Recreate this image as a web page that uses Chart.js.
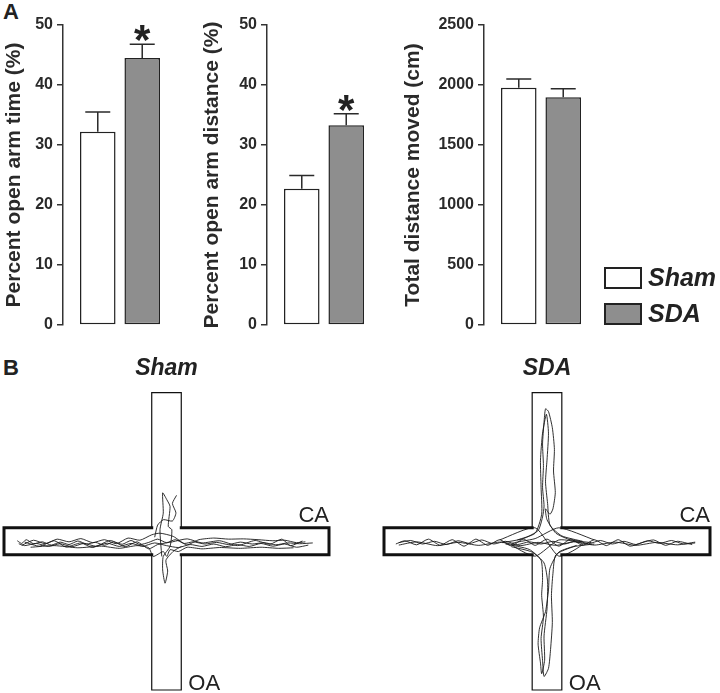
<!DOCTYPE html>
<html>
<head>
<meta charset="utf-8">
<script src="https://cdn.jsdelivr.net/npm/chart.js@4.4.1/dist/chart.umd.min.js"></script>
<style>
  body { margin: 0; background: #fff; }
  #fig { position: relative; width: 720px; height: 693px; overflow: hidden;
         font-family: "Liberation Sans", Arial, sans-serif; color: #222; }
  #fig canvas { position: absolute; }
  .panel { position: absolute; font-weight: bold; font-size: 22px; line-height: 24px; }
</style>
</head>
<body>
<div id="fig">
  <div class="panel" style="left:3px;top:0px">A</div>
  <div class="panel" style="left:3px;top:356px">B</div>
  <canvas id="timeChart" width="177" height="345" style="left:0;top:0"></canvas>
  <canvas id="distChart" width="191" height="345" style="left:190px;top:0"></canvas>
  <canvas id="totalChart" width="330" height="345" style="left:390px;top:0"></canvas>
  <canvas id="shamMaze" width="360" height="338" style="left:0;top:355px"></canvas>
  <canvas id="sdaMaze" width="350" height="338" style="left:370px;top:355px"></canvas>
</div>
<script>
// ---- panel A data ----
const groups = ['Sham', 'SDA'];
const barFills = ['#ffffff', '#8e8e8e'];

const openArmTime = [32.2, 44.5];        // %
const openArmTimeSem = [3.3, 2.3];
const openArmTimeStars = ['', '*'];

const openArmDist = [22.7, 33.3];        // %
const openArmDistSem = [2.2, 1.9];
const openArmDistStars = ['', '*'];

const totalDist = [1977, 1897];          // cm
const totalDistSem = [73, 72];
const totalDistStars = ['', ''];

// ---- panel B data (maze in cm, traces estimated from the tracks) ----
const armLength = 50;
const armHalfWidth = 5;
const armLabels = ['CA', 'OA'];

const shamTraces = [
  [[-50.5,0.2],[-49,-0.8],[-47.5,0.6],[-45,-0.9],[-42,-0.2],[-39,-1.4],[-36,-0.3],[-33,-1.2],[-30,0.1],[-27,-1.0],[-24,-0.4],[-21,-1.5],[-18,-0.2],[-15,-1.1],[-12,0.3],[-9,-1.2],[-6,-0.4],[-3,0.8],[0,-0.5],[3,0.6],[6,-0.8],[9,-0.2],[13,-1.0],[17,-0.4],[21,-1.2],[25,-0.3],[29,-1.0],[33,-0.5],[37,-1.3],[41,-0.6],[45,-0.9],[49.5,-0.6]],
  [[48,-1.4],[44,-2.2],[40,-1.0],[36,-1.8],[32,-0.8],[28,-1.9],[24,-1.2],[20,-2.0],[16,-1.0],[12,-1.9],[8,-1.2],[4,-2.3],[0,-1.6],[-4,-0.6],[-8,-1.8],[-12,-0.8],[-16,-1.9],[-20,-0.7],[-24,-1.8],[-28,-0.8],[-32,-2.0],[-36,-0.9],[-40,-1.9],[-44,-0.8],[-48,-1.6],[-50,-0.9]],
  [[-49,-1.5],[-45,0.4],[-41,-0.9],[-37,0.8],[-33,-0.2],[-29,1.0],[-25,-0.5],[-21,0.6],[-17,-0.9],[-13,1.2],[-9,0.4],[-5,2.4],[-2.2,3.0],[2.3,1.8],[6.8,-1.3],[11,0.6],[16,1.2],[21,0.8],[26,0.9],[31,0.6],[36,0.2],[40,0.4],[44,-0.5],[47,-0.2]],
  [[43,-2.4],[38,-2.6],[32,-2.2],[25,-2.6],[18,-2.3],[12,-2.8],[7,-2.2],[4,-3.8],[1.2,-3.1],[0.1,-5.6],[-1.1,-3.8],[-4.5,-5.6],[-6,-2.4],[-10,-1.6],[-16,-2.6],[-22,-1.8],[-30,-2.4],[-38,-1.6],[-46,-2.2]],
  [[-48,-0.3],[-43,-1.8],[-38,0.2],[-34,-2.1],[-29,-0.6],[-25,-2.3],[-19,0.3],[-14,-2.0],[-10,-0.2],[-6,-2.8],[-3,-1.2],[2,-0.2],[7,0.9],[12,-0.6],[18,0.2],[24,-1.6],[30,0.3],[35,-1.1],[39,0.8],[42,-1.6],[46,0.1]],
  [[-1.6,-5.6],[-2.2,4.3],[-1.1,10.4],[-1.3,17.9],[0.1,15.4],[1.2,12.9],[0.6,5.5],[1.8,4.3],[1.2,-1.9],[-1.1,-5.6],[-1.3,-10.6],[-0.5,-15.5],[0.4,-11],[-0.2,-7],[2.5,-3.5],[5.1,-1.9]],
  [[-4,1.5],[-3,6],[-1,8],[2,7.5],[3.2,10.5],[2,14],[3.4,17]]
];

const sdaTraces = [
  [[-50,-0.5],[-46,0.3],[-42,-1],[-38,0],[-34,-1.2],[-30,0.2],[-26,-0.8],[-22,0.5],[-18,-1],[-14,0],[-10,-1.2],[-6,-0.2],[-2,-1],[2,0],[6,-1],[10,0.2],[14,-0.9],[18,0.3],[22,-1],[26,0],[30,-1.2],[34,0.2],[38,-0.8],[42,0.3],[46,-1],[50,-0.6]],
  [[49,-1.2],[44,0],[40,-1.5],[36,0.5],[32,-0.5],[28,-1.8],[24,0.6],[20,-1.6],[16,0.6],[12,-1.5],[8,0.8],[4,-1.8],[0,0.8],[-4,-1.5],[-8,0.8],[-12,-1.7],[-16,0.6],[-20,-1.5],[-24,0.8],[-28,-1.8],[-32,0.6],[-36,-1.5],[-40,0.8],[-44,-1.3],[-48,0.2],[-51,-1]],
  [[-50,-1.4],[-44,-0.2],[-37,-1.6],[-30,-0.4],[-23,-1.5],[-16,-0.3],[-9,-1.6],[-3,-0.4],[3,-1.5],[9,-0.2],[16,-1.4],[23,-0.3],[30,-1.5],[37,-0.4],[44,-1.3],[50,-0.3]],
  [[-15,-0.5],[-8,1],[-3,4],[-1.5,9],[-1,13],[-1.5,20],[-1.2,28],[-1.5,36],[-1,44],[-0.5,49],[0.5,48],[1.8,42],[2.5,34],[2.2,26],[2.8,18],[2,12],[1,10],[-0.5,12],[0,8],[3,3],[8,0.5],[15,-0.5]],
  [[12,0],[5,2],[1,6],[0.2,14],[-0.5,22],[0,30],[0.5,40],[-0.2,47],[-1.5,40],[-2.2,30],[-2,20],[-1.8,10],[-4,3],[-10,0.5]],
  [[-14,-1],[-6,-3],[-2,-7],[-1.5,-14],[-1.8,-20],[-1.2,-28],[-2,-36],[-1.5,-44],[-1,-50],[0.5,-47],[1.2,-40],[1.8,-30],[1.5,-20],[2,-12],[3,-5],[9,-2],[16,-1]],
  [[10,-1.5],[4,-4],[1,-10],[0.5,-18],[-0.5,-26],[-2.5,-32],[-3,-38],[-2.2,-45],[-1.8,-49],[-0.8,-44],[-1,-35],[0,-25],[0.2,-15],[-1,-8],[-5,-4],[-12,-2]],
  [[-16,0.5],[-4,5],[4,-5.5],[12,-1],[4,0.5],[-4,-5.5],[-12,-1],[-4,1],[4,5],[16,0.5]]
];

// ---- helpers ----
const FONT = '"Liberation Sans", Arial, sans-serif';

const errorBars = {
  id: 'errorBars',
  afterDatasetsDraw(chart) {
    const { ctx, scales: { y } } = chart;
    chart.data.datasets.forEach((ds, i) => {
      const bar = chart.getDatasetMeta(i).data[0];
      const top = y.getPixelForValue(ds.data[0] + ds.sem);
      ctx.save();
      ctx.strokeStyle = '#2a2a2a';
      ctx.lineWidth = 1.5;
      ctx.beginPath();
      ctx.moveTo(bar.x, bar.y);
      ctx.lineTo(bar.x, top);
      ctx.moveTo(bar.x - 12.5, top);
      ctx.lineTo(bar.x + 12.5, top);
      ctx.stroke();
      if (ds.star) {
        ctx.fillStyle = '#222';
        ctx.font = 'bold 42px ' + FONT;
        ctx.textAlign = 'center';
        ctx.textBaseline = 'alphabetic';
        ctx.fillText(ds.star, bar.x, top + 10);
      }
      ctx.restore();
    });
  }
};

// legend boxes stacked at the bottom right of the plot
const sideLegend = {
  id: 'sideLegend',
  afterDraw(chart) {
    const { ctx, chartArea } = chart;
    const sets = chart.data.datasets;
    const x = chartArea.right + 6;
    sets.forEach((ds, i) => {
      const top = chartArea.bottom - 22 - (sets.length - 1 - i) * 36;
      ctx.save();
      ctx.fillStyle = ds.backgroundColor;
      ctx.strokeStyle = '#222';
      ctx.lineWidth = 2;
      ctx.fillRect(x, top, 38, 22);
      ctx.strokeRect(x + 1, top + 1, 36, 20);
      ctx.fillStyle = '#222';
      ctx.font = 'italic bold 25px ' + FONT;
      ctx.textBaseline = 'middle';
      ctx.fillText(ds.label, x + 44, top + 12);
      ctx.restore();
    });
  }
};

function barChart(id, values, sems, stars, title, max, step, axisWidth, titlePad, extraRight, plugins) {
  return new Chart(document.getElementById(id), {
    type: 'bar',
    data: {
      labels: [''],
      datasets: groups.map((g, i) => ({
        label: g,
        data: [values[i]],
        sem: sems[i],
        star: stars[i],
        backgroundColor: barFills[i],
        borderColor: '#222',
        borderWidth: 1.5,
        borderSkipped: false,
        categoryPercentage: 0.78,
        barPercentage: 0.8
      }))
    },
    options: {
      responsive: false,
      animation: false,
      layout: { padding: { top: 25, bottom: 20, left: 0, right: extraRight } },
      plugins: { legend: { display: false }, tooltip: { enabled: false } },
      scales: {
        x: { display: false },
        y: {
          min: 0,
          max: max,
          ticks: {
            stepSize: step, color: '#2a2a2a', padding: 4,
            font: { family: FONT, size: 16, weight: 'bold' },
            callback: v => String(v)
          },
          grid: { drawOnChartArea: false, tickLength: 6, color: '#333', lineWidth: 1.5 },
          border: { color: '#333', width: 1.5 },
          title: {
            display: true, text: title, color: '#2a2a2a',
            font: { family: FONT, size: 21, weight: 'bold' },
            padding: { top: titlePad, bottom: 0 }
          },
          afterFit(scale) { scale.width = axisWidth; }
        }
      }
    },
    plugins: [errorBars].concat(plugins || [])
  });
}

barChart('timeChart', openArmTime, openArmTimeSem, openArmTimeStars,
  'Percent open arm time (%)', 50, 10, 63, 2, 0);
barChart('distChart', openArmDist, openArmDistSem, openArmDistStars,
  'Percent open arm distance (%)', 50, 10, 77, 10, 0);
barChart('totalChart', totalDist, totalDistSem, totalDistStars,
  'Total distance moved (cm)', 2500, 500, 94, 11, 122, [sideLegend]);

// ---- panel B ----
function mazeOutline() {
  const w = armHalfWidth, e = armHalfWidth + armLength;
  return {
    closed: [
      [[-w, w], [-e, w], [-e, -w], [-w, -w]],
      [[w, w], [e, w], [e, -w], [w, -w]]
    ],
    open: [
      [[-w, w], [-w, e], [w, e], [w, w]],
      [[-w, -w], [-w, -e], [w, -e], [w, -w]]
    ]
  };
}

const armText = {
  id: 'armText',
  afterDraw(chart) {
    const { ctx, scales: { x, y } } = chart;
    const w = armHalfWidth, e = armHalfWidth + armLength;
    ctx.save();
    ctx.fillStyle = '#222';
    ctx.font = '22px ' + FONT;
    ctx.textBaseline = 'alphabetic';
    ctx.textAlign = 'right';
    ctx.fillText(armLabels[0], x.getPixelForValue(e), y.getPixelForValue(w) - 6);
    ctx.textAlign = 'left';
    ctx.fillText(armLabels[1], x.getPixelForValue(w) + 7, y.getPixelForValue(-e));
    ctx.restore();
  }
};

const toXY = pts => pts.map(([x, y]) => ({ x, y }));

function mazeChart(id, title, traces, padLeft, padRight) {
  const outline = mazeOutline();
  const lineSet = (pts, width, extra) => Object.assign({
    data: toXY(pts), showLine: true, pointRadius: 0, borderColor: '#111',
    borderWidth: width, clip: false, borderJoinStyle: 'miter'
  }, extra || {});
  const datasets = []
    .concat(outline.closed.map(p => lineSet(p, 3, { borderCapStyle: 'square' })))
    .concat(outline.open.map(p => lineSet(p, 1.2)))
    .concat(traces.map(t => lineSet(t, 0.9, { borderColor: '#1a1a1a', tension: 0.2, borderJoinStyle: 'round' })));
  return new Chart(document.getElementById(id), {
    type: 'scatter',
    data: { datasets },
    options: {
      responsive: false,
      animation: false,
      layout: { padding: { top: 0, bottom: 3, left: padLeft, right: padRight } },
      plugins: {
        legend: { display: false },
        tooltip: { enabled: false },
        title: {
          display: true, text: title, color: '#222',
          font: { family: FONT, size: 23, weight: 'bold', style: 'italic' },
          padding: { top: 0, bottom: 10 }
        }
      },
      scales: {
        x: { type: 'linear', display: false, min: -55, max: 55 },
        y: { type: 'linear', display: false, min: -55, max: 55 }
      }
    },
    plugins: [armText]
  });
}

mazeChart('shamMaze', 'Sham', shamTraces, 4, 31);
mazeChart('sdaMaze', 'SDA', sdaTraces, 14, 10);
</script>
</body>
</html>
